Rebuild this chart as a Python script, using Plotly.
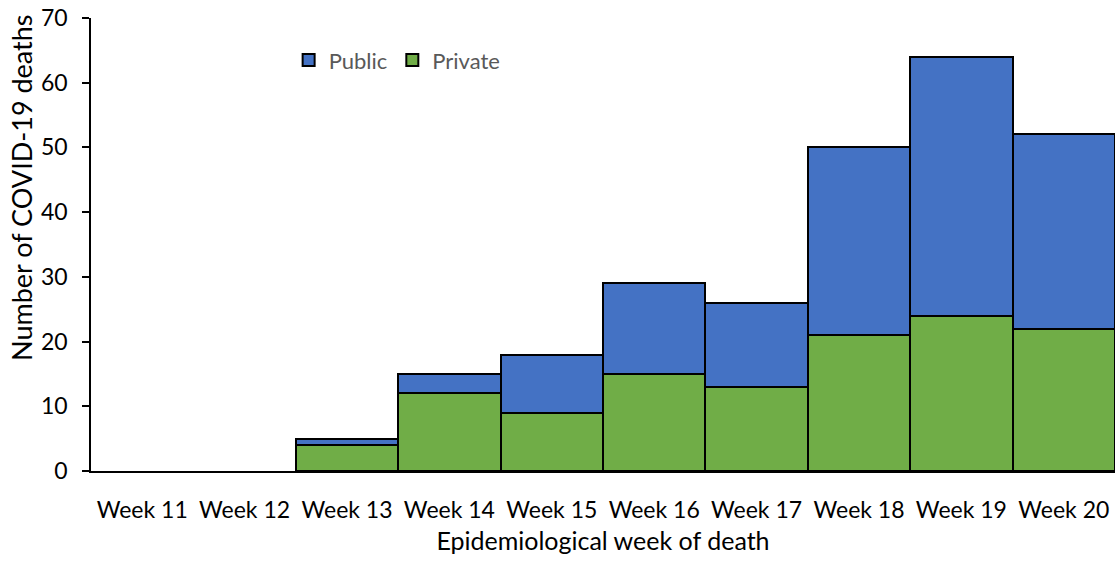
import plotly.graph_objects as go

weeks = ["Week 11", "Week 12", "Week 13", "Week 14", "Week 15",
         "Week 16", "Week 17", "Week 18", "Week 19", "Week 20"]
private_deaths = [0, 0, 4, 12, 9, 15, 13, 21, 24, 22]
public_deaths = [0, 0, 1, 3, 9, 14, 13, 29, 40, 30]

series = [("Private", private_deaths, "#70AD47"),
          ("Public", public_deaths, "#4472C4")]

font_family = "Lato, Liberation Sans, sans-serif"


def outline_widths(values):
    # empty weeks get no outline so only the axis line shows there
    return [2 if v > 0 else 0 for v in values]


fig = go.Figure()
for name, values, color in series:
    fig.add_trace(go.Bar(
        x=weeks, y=values, name=name, showlegend=False,
        marker=dict(color=color,
                    line=dict(color="black", width=outline_widths(values))),
    ))
# legend entries with a uniform black outline
for name, values, color in series:
    fig.add_trace(go.Bar(
        x=[None], y=[None], name=name,
        marker=dict(color=color, line=dict(color="black", width=2)),
    ))

fig.update_layout(
    barmode="stack",
    bargap=0,
    width=1116,
    height=562,
    margin=dict(l=91, r=1, t=18, b=91),
    plot_bgcolor="white",
    paper_bgcolor="white",
    font=dict(family=font_family, size=23, color="black"),
    legend=dict(
        orientation="h",
        traceorder="reversed",
        x=0.193, y=0.907, xanchor="left", yanchor="middle",
        font=dict(size=22, color="#595959"),
        bgcolor="rgba(0,0,0,0)",
        itemwidth=30,
    ),
    xaxis=dict(
        title=dict(text="Epidemiological week of death", standoff=10,
                   font=dict(size=25)),
        showline=True, linecolor="black", linewidth=1.5,
        ticks="", ticklabelstandoff=18,
        tickfont=dict(size=23),
    ),
    yaxis=dict(
        range=[0, 70], dtick=10,
        showline=True, linecolor="black", linewidth=1.5,
        ticks="outside", ticklen=7, tickcolor="black", tickwidth=1.5,
        ticklabelstandoff=10,
        showgrid=False, zeroline=False,
        tickfont=dict(size=23),
    ),
    annotations=[dict(
        text="Number of COVID-19 deaths", textangle=-90,
        xref="paper", yref="paper", x=-0.0674, y=0.627,
        xanchor="center", yanchor="middle", showarrow=False,
        font=dict(size=27, color="black"),
    )],
)

fig.write_html("out.html")
